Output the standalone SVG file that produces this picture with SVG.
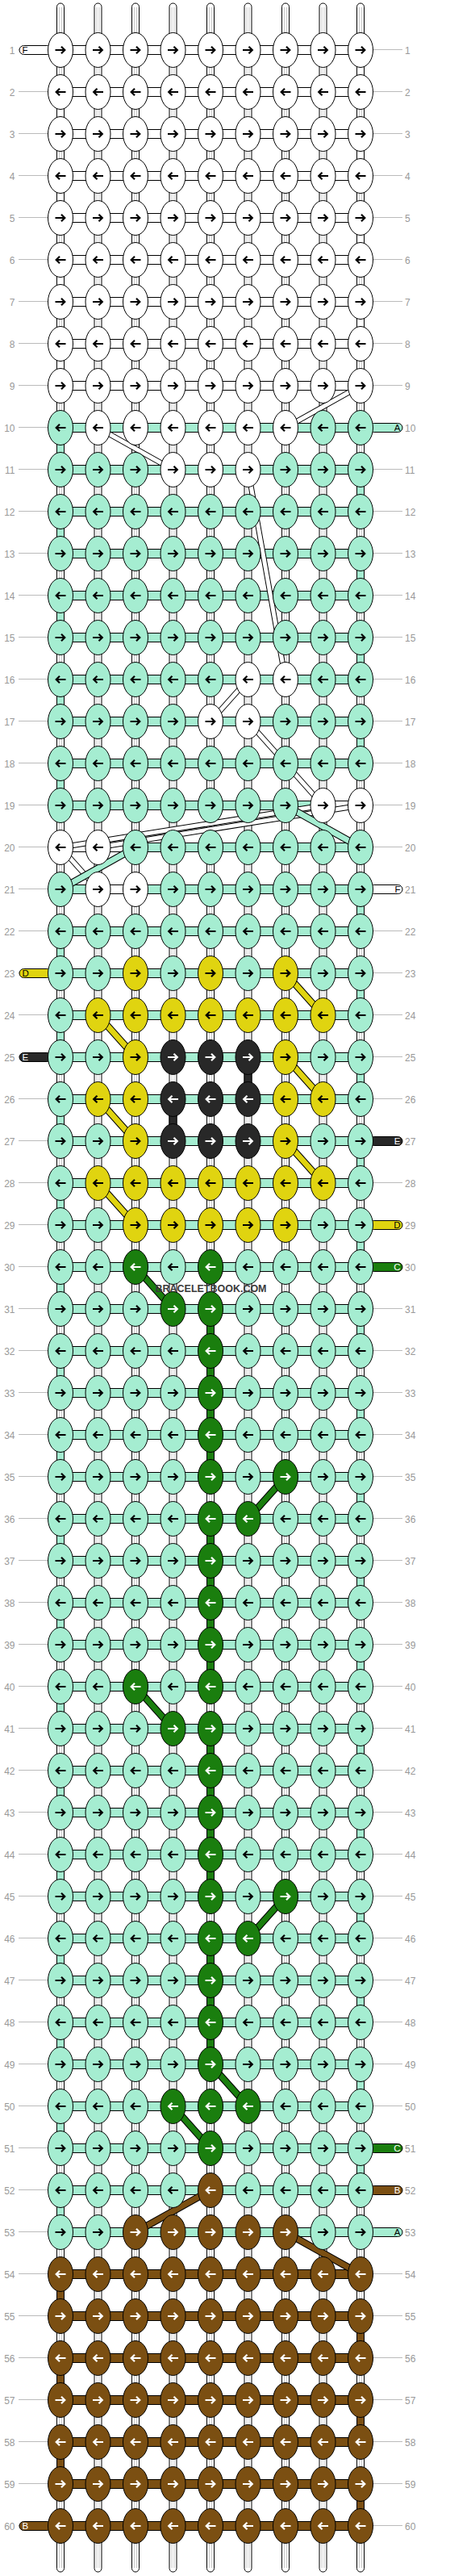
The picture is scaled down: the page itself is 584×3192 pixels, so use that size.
<svg xmlns="http://www.w3.org/2000/svg" xmlns:xlink="http://www.w3.org/1999/xlink" width="584" height="3192" viewBox="0 0 584 3192">
<style>
.o{stroke:#000;stroke-width:1}
.w{fill:#fff}.m{fill:#a5edd1}.y{fill:#e0d410}.k{fill:#282828}.g{fill:#1a7e0e}.b{fill:#7b4f12}
.n{font:12px "Liberation Sans",Arial,sans-serif;fill:#999}
.e{text-anchor:end}
.lb{font:11.5px "Liberation Sans",Arial,sans-serif}
.dk{fill:none;stroke:#000;stroke-width:9}
.tn{fill:none;stroke:#000;stroke-width:7}
</style>
<defs>
<path id="ar" d="M-6.5 0H5M1 -4.3L5.3 0L1 4.3" fill="none" stroke-width="2.2"/>
<path id="al" d="M6.5 0H-5M-1 -4.3L-5.3 0L-1 4.3" fill="none" stroke-width="2.2"/>
<g id="W"><ellipse class="o w" rx="15.5" ry="21.5"/><use href="#ar" stroke="#000"/></g>
<g id="w"><ellipse class="o w" rx="15.5" ry="21.5"/><use href="#al" stroke="#000"/></g>
<g id="M"><ellipse class="o m" rx="15.5" ry="21.5"/><use href="#ar" stroke="#000"/></g>
<g id="m"><ellipse class="o m" rx="15.5" ry="21.5"/><use href="#al" stroke="#000"/></g>
<g id="Y"><ellipse class="o y" rx="15.5" ry="21.5"/><use href="#ar" stroke="#000"/></g>
<g id="y"><ellipse class="o y" rx="15.5" ry="21.5"/><use href="#al" stroke="#000"/></g>
<g id="K"><ellipse class="o k" rx="15.5" ry="21.5"/><use href="#ar" stroke="#fff"/></g>
<g id="k"><ellipse class="o k" rx="15.5" ry="21.5"/><use href="#al" stroke="#fff"/></g>
<g id="G"><ellipse class="o g" rx="15.5" ry="21.5"/><use href="#ar" stroke="#fff"/></g>
<g id="g"><ellipse class="o g" rx="15.5" ry="21.5"/><use href="#al" stroke="#fff"/></g>
<g id="B"><ellipse class="o b" rx="15.5" ry="21.5"/><use href="#ar" stroke="#fff"/></g>
<g id="b"><ellipse class="o b" rx="15.5" ry="21.5"/><use href="#al" stroke="#fff"/></g>
<pattern id="gl" width="10" height="52" patternUnits="userSpaceOnUse" y="61"><rect width="10" height="1" fill="#bbb"/></pattern>
</defs>
<rect width="584" height="3192" fill="#fff"/>
<g id="row-lines">
<rect x="23" y="61" width="37" height="3070" fill="url(#gl)"/>
<rect x="462" y="61" width="37" height="3070" fill="url(#gl)"/>
</g>
<g id="connectors">
<g id="base-threads">
<rect class="o w" x="70.5" y="4" width="9" height="3183" rx="4.5"/>
<rect class="o w" x="117" y="4" width="9" height="3183" rx="4.5"/>
<rect class="o w" x="163.5" y="4" width="9" height="3183" rx="4.5"/>
<rect class="o w" x="210" y="4" width="9" height="3183" rx="4.5"/>
<rect class="o w" x="256.5" y="4" width="9" height="3183" rx="4.5"/>
<rect class="o w" x="303" y="4" width="9" height="3183" rx="4.5"/>
<rect class="o w" x="349.5" y="4" width="9" height="3183" rx="4.5"/>
<rect class="o w" x="396" y="4" width="9" height="3183" rx="4.5"/>
<rect class="o w" x="442.5" y="4" width="9" height="3183" rx="4.5"/>
<path d="M73.5 9V3182M76.5 9V3182M120 9V3182M123 9V3182M166.5 9V3182M169.5 9V3182M213 9V3182M216 9V3182M259.5 9V3182M262.5 9V3182M306 9V3182M309 9V3182M352.5 9V3182M355.5 9V3182M399 9V3182M402 9V3182M445.5 9V3182M448.5 9V3182" stroke="#c8c8c8" stroke-width="1" fill="none"/>
</g>
<g id="turns">
<path class="o w" d="M70.5 130h9v20h-9zM70.5 234h9v20h-9zM70.5 338h9v20h-9zM70.5 442h9v20h-9zM442.5 78h9v20h-9zM442.5 182h9v20h-9zM442.5 286h9v20h-9zM442.5 390h9v20h-9z"/>
<path class="o m" d="M70.5 546h9v20h-9zM70.5 650h9v20h-9zM70.5 754h9v20h-9zM70.5 858h9v20h-9zM70.5 962h9v20h-9zM70.5 1170h9v20h-9zM70.5 1274h9v20h-9zM70.5 1378h9v20h-9zM70.5 1482h9v20h-9zM70.5 1586h9v20h-9zM70.5 1690h9v20h-9zM70.5 1794h9v20h-9zM70.5 1898h9v20h-9zM70.5 2002h9v20h-9zM70.5 2106h9v20h-9zM70.5 2210h9v20h-9zM70.5 2314h9v20h-9zM70.5 2418h9v20h-9zM70.5 2522h9v20h-9zM70.5 2626h9v20h-9zM70.5 2730h9v20h-9zM442.5 598h9v20h-9zM442.5 702h9v20h-9zM442.5 806h9v20h-9zM442.5 910h9v20h-9zM442.5 1118h9v20h-9zM442.5 1222h9v20h-9zM442.5 1326h9v20h-9zM442.5 1430h9v20h-9zM442.5 1534h9v20h-9zM442.5 1638h9v20h-9zM442.5 1742h9v20h-9zM442.5 1846h9v20h-9zM442.5 1950h9v20h-9zM442.5 2054h9v20h-9zM442.5 2158h9v20h-9zM442.5 2262h9v20h-9zM442.5 2366h9v20h-9zM442.5 2470h9v20h-9zM442.5 2574h9v20h-9zM442.5 2678h9v20h-9z"/>
<path class="o b" d="M70.5 2834h9v20h-9zM70.5 2938h9v20h-9zM70.5 3042h9v20h-9zM442.5 2886h9v20h-9zM442.5 2990h9v20h-9zM442.5 3094h9v20h-9z"/>
<path class="o k" d="M303 1326h9v20h-9zM210 1378h9v20h-9z"/>
<path class="o g" d="M256.5 1638h9v20h-9zM256.5 1690h9v20h-9zM256.5 1742h9v20h-9zM256.5 1794h9v20h-9zM256.5 1898h9v20h-9zM256.5 1950h9v20h-9zM256.5 2002h9v20h-9zM256.5 2054h9v20h-9zM256.5 2158h9v20h-9zM256.5 2210h9v20h-9zM256.5 2262h9v20h-9zM256.5 2314h9v20h-9zM256.5 2418h9v20h-9zM256.5 2470h9v20h-9zM256.5 2522h9v20h-9z"/>
</g>
<g id="row-bars">
<path class="o w" d="M75 56.5h372v11H75zM75 108.5h372v11H75zM75 160.5h372v11H75zM75 212.5h372v11H75zM75 264.5h372v11H75zM75 316.5h372v11H75zM75 368.5h372v11H75zM75 420.5h372v11H75zM75 472.5h372v11H75z"/>
<path class="o m" d="M75 524.5h372v11H75zM75 576.5h372v11H75zM75 628.5h372v11H75zM75 680.5h372v11H75zM75 732.5h372v11H75zM75 784.5h372v11H75zM75 836.5h372v11H75zM75 888.5h372v11H75zM75 940.5h372v11H75zM75 992.5h372v11H75zM75 1044.5h372v11H75zM75 1096.5h372v11H75zM75 1148.5h372v11H75zM75 1200.5h372v11H75zM75 1252.5h372v11H75zM75 1304.5h372v11H75zM75 1356.5h372v11H75zM75 1408.5h372v11H75zM75 1460.5h372v11H75zM75 1512.5h372v11H75zM75 1564.5h372v11H75zM75 1616.5h372v11H75zM75 1668.5h372v11H75zM75 1720.5h372v11H75zM75 1772.5h372v11H75zM75 1824.5h372v11H75zM75 1876.5h372v11H75zM75 1928.5h372v11H75zM75 1980.5h372v11H75zM75 2032.5h372v11H75zM75 2084.5h372v11H75zM75 2136.5h372v11H75zM75 2188.5h372v11H75zM75 2240.5h372v11H75zM75 2292.5h372v11H75zM75 2344.5h372v11H75zM75 2396.5h372v11H75zM75 2448.5h372v11H75zM75 2500.5h372v11H75zM75 2552.5h372v11H75zM75 2604.5h372v11H75zM75 2656.5h372v11H75zM75 2708.5h372v11H75zM75 2760.5h372v11H75z"/>
<path class="o b" d="M75 2812.5h372v11H75zM75 2864.5h372v11H75zM75 2916.5h372v11H75zM75 2968.5h372v11H75zM75 3020.5h372v11H75zM75 3072.5h372v11H75zM75 3124.5h372v11H75z"/>
<path class="o w" d="M410.5 992.5h27v11h-27zM85 1044.5h27v11h-27zM131.5 1044.5h27v11h-27zM131.5 1096.5h27v11h-27z"/>
</g>
<g id="stubs">
<rect class="o w" x="24" y="56.5" width="40" height="11" rx="5.5"/><text class="lb" x="27.5" y="65.7">F</text>
<rect class="o m" x="458" y="524.5" width="41" height="11" rx="5.5"/><text class="lb e" x="496.5" y="533.7">A</text>
<rect class="o w" x="458" y="1096.5" width="41" height="11" rx="5.5"/><text class="lb e" x="496.5" y="1105.7">F</text>
<rect class="o y" x="24" y="1200.5" width="40" height="11" rx="5.5"/><text class="lb" x="27.5" y="1209.7">D</text>
<rect class="o k" x="24" y="1304.5" width="40" height="11" rx="5.5"/><text class="lb" x="27.5" y="1313.7" fill="#fff">E</text>
<rect class="o k" x="458" y="1408.5" width="41" height="11" rx="5.5"/><text class="lb e" x="496.5" y="1417.7" fill="#fff">E</text>
<rect class="o y" x="458" y="1512.5" width="41" height="11" rx="5.5"/><text class="lb e" x="496.5" y="1521.7">D</text>
<rect class="o g" x="458" y="1564.5" width="41" height="11" rx="5.5"/><text class="lb e" x="496.5" y="1573.7" fill="#fff">C</text>
<rect class="o g" x="458" y="2656.5" width="41" height="11" rx="5.5"/><text class="lb e" x="496.5" y="2665.7" fill="#fff">C</text>
<rect class="o b" x="458" y="2708.5" width="41" height="11" rx="5.5"/><text class="lb e" x="496.5" y="2717.7" fill="#fff">B</text>
<rect class="o m" x="458" y="2760.5" width="41" height="11" rx="5.5"/><text class="lb e" x="496.5" y="2769.7">A</text>
<rect class="o b" x="24" y="3124.5" width="40" height="11" rx="5.5"/><text class="lb" x="27.5" y="3133.7" fill="#fff">B</text>
</g>
<g id="diagonals">
<path class="tn" d="M447 478L354 530M121.5 530L214.5 582M307.5 582L354 842M307.5 842L261 894M307.5 894L400.5 998M447 998L121.5 1050M400.5 998L75 1050M75 1050L121.5 1102"/>
<path fill="none" stroke="#fff" stroke-width="5" d="M447 478L354 530M121.5 530L214.5 582M307.5 582L354 842M307.5 842L261 894M307.5 894L400.5 998M447 998L121.5 1050M400.5 998L75 1050M75 1050L121.5 1102"/>
<path class="dk" d="M354 998L447 1050M168 1050L75 1102"/>
<path fill="none" stroke="#a5edd1" stroke-width="7" d="M354 998L447 1050M168 1050L75 1102"/>
<path class="dk" d="M354 1206L400.5 1258M121.5 1258L168 1310M354 1310L400.5 1362M121.5 1362L168 1414M354 1414L400.5 1466M121.5 1466L168 1518"/>
<path fill="none" stroke="#e0d410" stroke-width="7" d="M354 1206L400.5 1258M121.5 1258L168 1310M354 1310L400.5 1362M121.5 1362L168 1414M354 1414L400.5 1466M121.5 1466L168 1518"/>
<path class="dk" d="M168 1570L214.5 1622M354 1830L307.5 1882M168 2090L214.5 2142M354 2350L307.5 2402M261 2558L307.5 2610M214.5 2610L261 2662"/>
<path fill="none" stroke="#1a7e0e" stroke-width="7" d="M168 1570L214.5 1622M354 1830L307.5 1882M168 2090L214.5 2142M354 2350L307.5 2402M261 2558L307.5 2610M214.5 2610L261 2662"/>
<path class="dk" d="M261 2714L168 2766M354 2766L447 2818"/>
<path fill="none" stroke="#7b4f12" stroke-width="7" d="M261 2714L168 2766M354 2766L447 2818"/>
</g>
</g>
<g id="knots">
<g id="row1" transform="translate(0 62)"><use href="#W" x="75"/><use href="#W" x="121.5"/><use href="#W" x="168"/><use href="#W" x="214.5"/><use href="#W" x="261"/><use href="#W" x="307.5"/><use href="#W" x="354"/><use href="#W" x="400.5"/><use href="#W" x="447"/><text class="n e" x="18.5" y="4.5">1</text><text class="n" x="502" y="4.5">1</text></g>
<g id="row2" transform="translate(0 114)"><use href="#w" x="75"/><use href="#w" x="121.5"/><use href="#w" x="168"/><use href="#w" x="214.5"/><use href="#w" x="261"/><use href="#w" x="307.5"/><use href="#w" x="354"/><use href="#w" x="400.5"/><use href="#w" x="447"/><text class="n e" x="18.5" y="4.5">2</text><text class="n" x="502" y="4.5">2</text></g>
<g id="row3" transform="translate(0 166)"><use href="#W" x="75"/><use href="#W" x="121.5"/><use href="#W" x="168"/><use href="#W" x="214.5"/><use href="#W" x="261"/><use href="#W" x="307.5"/><use href="#W" x="354"/><use href="#W" x="400.5"/><use href="#W" x="447"/><text class="n e" x="18.5" y="4.5">3</text><text class="n" x="502" y="4.5">3</text></g>
<g id="row4" transform="translate(0 218)"><use href="#w" x="75"/><use href="#w" x="121.5"/><use href="#w" x="168"/><use href="#w" x="214.5"/><use href="#w" x="261"/><use href="#w" x="307.5"/><use href="#w" x="354"/><use href="#w" x="400.5"/><use href="#w" x="447"/><text class="n e" x="18.5" y="4.5">4</text><text class="n" x="502" y="4.5">4</text></g>
<g id="row5" transform="translate(0 270)"><use href="#W" x="75"/><use href="#W" x="121.5"/><use href="#W" x="168"/><use href="#W" x="214.5"/><use href="#W" x="261"/><use href="#W" x="307.5"/><use href="#W" x="354"/><use href="#W" x="400.5"/><use href="#W" x="447"/><text class="n e" x="18.5" y="4.5">5</text><text class="n" x="502" y="4.5">5</text></g>
<g id="row6" transform="translate(0 322)"><use href="#w" x="75"/><use href="#w" x="121.5"/><use href="#w" x="168"/><use href="#w" x="214.5"/><use href="#w" x="261"/><use href="#w" x="307.5"/><use href="#w" x="354"/><use href="#w" x="400.5"/><use href="#w" x="447"/><text class="n e" x="18.5" y="4.5">6</text><text class="n" x="502" y="4.5">6</text></g>
<g id="row7" transform="translate(0 374)"><use href="#W" x="75"/><use href="#W" x="121.5"/><use href="#W" x="168"/><use href="#W" x="214.5"/><use href="#W" x="261"/><use href="#W" x="307.5"/><use href="#W" x="354"/><use href="#W" x="400.5"/><use href="#W" x="447"/><text class="n e" x="18.5" y="4.5">7</text><text class="n" x="502" y="4.5">7</text></g>
<g id="row8" transform="translate(0 426)"><use href="#w" x="75"/><use href="#w" x="121.5"/><use href="#w" x="168"/><use href="#w" x="214.5"/><use href="#w" x="261"/><use href="#w" x="307.5"/><use href="#w" x="354"/><use href="#w" x="400.5"/><use href="#w" x="447"/><text class="n e" x="18.5" y="4.5">8</text><text class="n" x="502" y="4.5">8</text></g>
<g id="row9" transform="translate(0 478)"><use href="#W" x="75"/><use href="#W" x="121.5"/><use href="#W" x="168"/><use href="#W" x="214.5"/><use href="#W" x="261"/><use href="#W" x="307.5"/><use href="#W" x="354"/><use href="#W" x="400.5"/><use href="#W" x="447"/><text class="n e" x="18.5" y="4.5">9</text><text class="n" x="502" y="4.5">9</text></g>
<g id="row10" transform="translate(0 530)"><use href="#m" x="75"/><use href="#w" x="121.5"/><use href="#w" x="168"/><use href="#w" x="214.5"/><use href="#w" x="261"/><use href="#w" x="307.5"/><use href="#w" x="354"/><use href="#m" x="400.5"/><use href="#m" x="447"/><text class="n e" x="18.5" y="4.5">10</text><text class="n" x="502" y="4.5">10</text></g>
<g id="row11" transform="translate(0 582)"><use href="#M" x="75"/><use href="#M" x="121.5"/><use href="#M" x="168"/><use href="#W" x="214.5"/><use href="#W" x="261"/><use href="#W" x="307.5"/><use href="#M" x="354"/><use href="#M" x="400.5"/><use href="#M" x="447"/><text class="n e" x="18.5" y="4.5">11</text><text class="n" x="502" y="4.5">11</text></g>
<g id="row12" transform="translate(0 634)"><use href="#m" x="75"/><use href="#m" x="121.5"/><use href="#m" x="168"/><use href="#m" x="214.5"/><use href="#m" x="261"/><use href="#m" x="307.5"/><use href="#m" x="354"/><use href="#m" x="400.5"/><use href="#m" x="447"/><text class="n e" x="18.5" y="4.5">12</text><text class="n" x="502" y="4.5">12</text></g>
<g id="row13" transform="translate(0 686)"><use href="#M" x="75"/><use href="#M" x="121.5"/><use href="#M" x="168"/><use href="#M" x="214.5"/><use href="#M" x="261"/><use href="#M" x="307.5"/><use href="#M" x="354"/><use href="#M" x="400.5"/><use href="#M" x="447"/><text class="n e" x="18.5" y="4.5">13</text><text class="n" x="502" y="4.5">13</text></g>
<g id="row14" transform="translate(0 738)"><use href="#m" x="75"/><use href="#m" x="121.5"/><use href="#m" x="168"/><use href="#m" x="214.5"/><use href="#m" x="261"/><use href="#m" x="307.5"/><use href="#m" x="354"/><use href="#m" x="400.5"/><use href="#m" x="447"/><text class="n e" x="18.5" y="4.5">14</text><text class="n" x="502" y="4.5">14</text></g>
<g id="row15" transform="translate(0 790)"><use href="#M" x="75"/><use href="#M" x="121.5"/><use href="#M" x="168"/><use href="#M" x="214.5"/><use href="#M" x="261"/><use href="#M" x="307.5"/><use href="#M" x="354"/><use href="#M" x="400.5"/><use href="#M" x="447"/><text class="n e" x="18.5" y="4.5">15</text><text class="n" x="502" y="4.5">15</text></g>
<g id="row16" transform="translate(0 842)"><use href="#m" x="75"/><use href="#m" x="121.5"/><use href="#m" x="168"/><use href="#m" x="214.5"/><use href="#m" x="261"/><use href="#w" x="307.5"/><use href="#w" x="354"/><use href="#m" x="400.5"/><use href="#m" x="447"/><text class="n e" x="18.5" y="4.5">16</text><text class="n" x="502" y="4.5">16</text></g>
<g id="row17" transform="translate(0 894)"><use href="#M" x="75"/><use href="#M" x="121.5"/><use href="#M" x="168"/><use href="#M" x="214.5"/><use href="#W" x="261"/><use href="#W" x="307.5"/><use href="#M" x="354"/><use href="#M" x="400.5"/><use href="#M" x="447"/><text class="n e" x="18.5" y="4.5">17</text><text class="n" x="502" y="4.5">17</text></g>
<g id="row18" transform="translate(0 946)"><use href="#m" x="75"/><use href="#m" x="121.5"/><use href="#m" x="168"/><use href="#m" x="214.5"/><use href="#m" x="261"/><use href="#m" x="307.5"/><use href="#m" x="354"/><use href="#m" x="400.5"/><use href="#m" x="447"/><text class="n e" x="18.5" y="4.5">18</text><text class="n" x="502" y="4.5">18</text></g>
<g id="row19" transform="translate(0 998)"><use href="#M" x="75"/><use href="#M" x="121.5"/><use href="#M" x="168"/><use href="#M" x="214.5"/><use href="#M" x="261"/><use href="#M" x="307.5"/><use href="#M" x="354"/><use href="#W" x="400.5"/><use href="#W" x="447"/><text class="n e" x="18.5" y="4.5">19</text><text class="n" x="502" y="4.5">19</text></g>
<g id="row20" transform="translate(0 1050)"><use href="#w" x="75"/><use href="#w" x="121.5"/><use href="#m" x="168"/><use href="#m" x="214.5"/><use href="#m" x="261"/><use href="#m" x="307.5"/><use href="#m" x="354"/><use href="#m" x="400.5"/><use href="#m" x="447"/><text class="n e" x="18.5" y="4.5">20</text><text class="n" x="502" y="4.5">20</text></g>
<g id="row21" transform="translate(0 1102)"><use href="#M" x="75"/><use href="#W" x="121.5"/><use href="#W" x="168"/><use href="#M" x="214.5"/><use href="#M" x="261"/><use href="#M" x="307.5"/><use href="#M" x="354"/><use href="#M" x="400.5"/><use href="#M" x="447"/><text class="n e" x="18.5" y="4.5">21</text><text class="n" x="502" y="4.5">21</text></g>
<g id="row22" transform="translate(0 1154)"><use href="#m" x="75"/><use href="#m" x="121.5"/><use href="#m" x="168"/><use href="#m" x="214.5"/><use href="#m" x="261"/><use href="#m" x="307.5"/><use href="#m" x="354"/><use href="#m" x="400.5"/><use href="#m" x="447"/><text class="n e" x="18.5" y="4.5">22</text><text class="n" x="502" y="4.5">22</text></g>
<g id="row23" transform="translate(0 1206)"><use href="#M" x="75"/><use href="#M" x="121.5"/><use href="#Y" x="168"/><use href="#M" x="214.5"/><use href="#Y" x="261"/><use href="#M" x="307.5"/><use href="#Y" x="354"/><use href="#M" x="400.5"/><use href="#M" x="447"/><text class="n e" x="18.5" y="4.5">23</text><text class="n" x="502" y="4.5">23</text></g>
<g id="row24" transform="translate(0 1258)"><use href="#m" x="75"/><use href="#y" x="121.5"/><use href="#y" x="168"/><use href="#y" x="214.5"/><use href="#y" x="261"/><use href="#y" x="307.5"/><use href="#y" x="354"/><use href="#y" x="400.5"/><use href="#m" x="447"/><text class="n e" x="18.5" y="4.5">24</text><text class="n" x="502" y="4.5">24</text></g>
<g id="row25" transform="translate(0 1310)"><use href="#M" x="75"/><use href="#M" x="121.5"/><use href="#Y" x="168"/><use href="#K" x="214.5"/><use href="#K" x="261"/><use href="#K" x="307.5"/><use href="#Y" x="354"/><use href="#M" x="400.5"/><use href="#M" x="447"/><text class="n e" x="18.5" y="4.5">25</text><text class="n" x="502" y="4.5">25</text></g>
<g id="row26" transform="translate(0 1362)"><use href="#m" x="75"/><use href="#y" x="121.5"/><use href="#y" x="168"/><use href="#k" x="214.5"/><use href="#k" x="261"/><use href="#k" x="307.5"/><use href="#y" x="354"/><use href="#y" x="400.5"/><use href="#m" x="447"/><text class="n e" x="18.5" y="4.5">26</text><text class="n" x="502" y="4.5">26</text></g>
<g id="row27" transform="translate(0 1414)"><use href="#M" x="75"/><use href="#M" x="121.5"/><use href="#Y" x="168"/><use href="#K" x="214.5"/><use href="#K" x="261"/><use href="#K" x="307.5"/><use href="#Y" x="354"/><use href="#M" x="400.5"/><use href="#M" x="447"/><text class="n e" x="18.5" y="4.5">27</text><text class="n" x="502" y="4.5">27</text></g>
<g id="row28" transform="translate(0 1466)"><use href="#m" x="75"/><use href="#y" x="121.5"/><use href="#y" x="168"/><use href="#y" x="214.5"/><use href="#y" x="261"/><use href="#y" x="307.5"/><use href="#y" x="354"/><use href="#y" x="400.5"/><use href="#m" x="447"/><text class="n e" x="18.5" y="4.5">28</text><text class="n" x="502" y="4.5">28</text></g>
<g id="row29" transform="translate(0 1518)"><use href="#M" x="75"/><use href="#M" x="121.5"/><use href="#Y" x="168"/><use href="#Y" x="214.5"/><use href="#Y" x="261"/><use href="#Y" x="307.5"/><use href="#Y" x="354"/><use href="#M" x="400.5"/><use href="#M" x="447"/><text class="n e" x="18.5" y="4.5">29</text><text class="n" x="502" y="4.5">29</text></g>
<g id="row30" transform="translate(0 1570)"><use href="#m" x="75"/><use href="#m" x="121.5"/><use href="#g" x="168"/><use href="#m" x="214.5"/><use href="#g" x="261"/><use href="#m" x="307.5"/><use href="#m" x="354"/><use href="#m" x="400.5"/><use href="#m" x="447"/><text class="n e" x="18.5" y="4.5">30</text><text class="n" x="502" y="4.5">30</text></g>
<g id="row31" transform="translate(0 1622)"><use href="#M" x="75"/><use href="#M" x="121.5"/><use href="#M" x="168"/><use href="#G" x="214.5"/><use href="#G" x="261"/><use href="#M" x="307.5"/><use href="#M" x="354"/><use href="#M" x="400.5"/><use href="#M" x="447"/><text class="n e" x="18.5" y="4.5">31</text><text class="n" x="502" y="4.5">31</text></g>
<g id="row32" transform="translate(0 1674)"><use href="#m" x="75"/><use href="#m" x="121.5"/><use href="#m" x="168"/><use href="#m" x="214.5"/><use href="#g" x="261"/><use href="#m" x="307.5"/><use href="#m" x="354"/><use href="#m" x="400.5"/><use href="#m" x="447"/><text class="n e" x="18.5" y="4.5">32</text><text class="n" x="502" y="4.5">32</text></g>
<g id="row33" transform="translate(0 1726)"><use href="#M" x="75"/><use href="#M" x="121.5"/><use href="#M" x="168"/><use href="#M" x="214.5"/><use href="#G" x="261"/><use href="#M" x="307.5"/><use href="#M" x="354"/><use href="#M" x="400.5"/><use href="#M" x="447"/><text class="n e" x="18.5" y="4.5">33</text><text class="n" x="502" y="4.5">33</text></g>
<g id="row34" transform="translate(0 1778)"><use href="#m" x="75"/><use href="#m" x="121.5"/><use href="#m" x="168"/><use href="#m" x="214.5"/><use href="#g" x="261"/><use href="#m" x="307.5"/><use href="#m" x="354"/><use href="#m" x="400.5"/><use href="#m" x="447"/><text class="n e" x="18.5" y="4.5">34</text><text class="n" x="502" y="4.5">34</text></g>
<g id="row35" transform="translate(0 1830)"><use href="#M" x="75"/><use href="#M" x="121.5"/><use href="#M" x="168"/><use href="#M" x="214.5"/><use href="#G" x="261"/><use href="#M" x="307.5"/><use href="#G" x="354"/><use href="#M" x="400.5"/><use href="#M" x="447"/><text class="n e" x="18.5" y="4.5">35</text><text class="n" x="502" y="4.5">35</text></g>
<g id="row36" transform="translate(0 1882)"><use href="#m" x="75"/><use href="#m" x="121.5"/><use href="#m" x="168"/><use href="#m" x="214.5"/><use href="#g" x="261"/><use href="#g" x="307.5"/><use href="#m" x="354"/><use href="#m" x="400.5"/><use href="#m" x="447"/><text class="n e" x="18.5" y="4.5">36</text><text class="n" x="502" y="4.5">36</text></g>
<g id="row37" transform="translate(0 1934)"><use href="#M" x="75"/><use href="#M" x="121.5"/><use href="#M" x="168"/><use href="#M" x="214.5"/><use href="#G" x="261"/><use href="#M" x="307.5"/><use href="#M" x="354"/><use href="#M" x="400.5"/><use href="#M" x="447"/><text class="n e" x="18.5" y="4.5">37</text><text class="n" x="502" y="4.5">37</text></g>
<g id="row38" transform="translate(0 1986)"><use href="#m" x="75"/><use href="#m" x="121.5"/><use href="#m" x="168"/><use href="#m" x="214.5"/><use href="#g" x="261"/><use href="#m" x="307.5"/><use href="#m" x="354"/><use href="#m" x="400.5"/><use href="#m" x="447"/><text class="n e" x="18.5" y="4.5">38</text><text class="n" x="502" y="4.5">38</text></g>
<g id="row39" transform="translate(0 2038)"><use href="#M" x="75"/><use href="#M" x="121.5"/><use href="#M" x="168"/><use href="#M" x="214.5"/><use href="#G" x="261"/><use href="#M" x="307.5"/><use href="#M" x="354"/><use href="#M" x="400.5"/><use href="#M" x="447"/><text class="n e" x="18.5" y="4.5">39</text><text class="n" x="502" y="4.5">39</text></g>
<g id="row40" transform="translate(0 2090)"><use href="#m" x="75"/><use href="#m" x="121.5"/><use href="#g" x="168"/><use href="#m" x="214.5"/><use href="#g" x="261"/><use href="#m" x="307.5"/><use href="#m" x="354"/><use href="#m" x="400.5"/><use href="#m" x="447"/><text class="n e" x="18.5" y="4.5">40</text><text class="n" x="502" y="4.5">40</text></g>
<g id="row41" transform="translate(0 2142)"><use href="#M" x="75"/><use href="#M" x="121.5"/><use href="#M" x="168"/><use href="#G" x="214.5"/><use href="#G" x="261"/><use href="#M" x="307.5"/><use href="#M" x="354"/><use href="#M" x="400.5"/><use href="#M" x="447"/><text class="n e" x="18.5" y="4.5">41</text><text class="n" x="502" y="4.5">41</text></g>
<g id="row42" transform="translate(0 2194)"><use href="#m" x="75"/><use href="#m" x="121.5"/><use href="#m" x="168"/><use href="#m" x="214.5"/><use href="#g" x="261"/><use href="#m" x="307.5"/><use href="#m" x="354"/><use href="#m" x="400.5"/><use href="#m" x="447"/><text class="n e" x="18.5" y="4.5">42</text><text class="n" x="502" y="4.5">42</text></g>
<g id="row43" transform="translate(0 2246)"><use href="#M" x="75"/><use href="#M" x="121.5"/><use href="#M" x="168"/><use href="#M" x="214.5"/><use href="#G" x="261"/><use href="#M" x="307.5"/><use href="#M" x="354"/><use href="#M" x="400.5"/><use href="#M" x="447"/><text class="n e" x="18.5" y="4.5">43</text><text class="n" x="502" y="4.5">43</text></g>
<g id="row44" transform="translate(0 2298)"><use href="#m" x="75"/><use href="#m" x="121.5"/><use href="#m" x="168"/><use href="#m" x="214.5"/><use href="#g" x="261"/><use href="#m" x="307.5"/><use href="#m" x="354"/><use href="#m" x="400.5"/><use href="#m" x="447"/><text class="n e" x="18.5" y="4.5">44</text><text class="n" x="502" y="4.5">44</text></g>
<g id="row45" transform="translate(0 2350)"><use href="#M" x="75"/><use href="#M" x="121.5"/><use href="#M" x="168"/><use href="#M" x="214.5"/><use href="#G" x="261"/><use href="#M" x="307.5"/><use href="#G" x="354"/><use href="#M" x="400.5"/><use href="#M" x="447"/><text class="n e" x="18.5" y="4.5">45</text><text class="n" x="502" y="4.5">45</text></g>
<g id="row46" transform="translate(0 2402)"><use href="#m" x="75"/><use href="#m" x="121.5"/><use href="#m" x="168"/><use href="#m" x="214.5"/><use href="#g" x="261"/><use href="#g" x="307.5"/><use href="#m" x="354"/><use href="#m" x="400.5"/><use href="#m" x="447"/><text class="n e" x="18.5" y="4.5">46</text><text class="n" x="502" y="4.5">46</text></g>
<g id="row47" transform="translate(0 2454)"><use href="#M" x="75"/><use href="#M" x="121.5"/><use href="#M" x="168"/><use href="#M" x="214.5"/><use href="#G" x="261"/><use href="#M" x="307.5"/><use href="#M" x="354"/><use href="#M" x="400.5"/><use href="#M" x="447"/><text class="n e" x="18.5" y="4.5">47</text><text class="n" x="502" y="4.5">47</text></g>
<g id="row48" transform="translate(0 2506)"><use href="#m" x="75"/><use href="#m" x="121.5"/><use href="#m" x="168"/><use href="#m" x="214.5"/><use href="#g" x="261"/><use href="#m" x="307.5"/><use href="#m" x="354"/><use href="#m" x="400.5"/><use href="#m" x="447"/><text class="n e" x="18.5" y="4.5">48</text><text class="n" x="502" y="4.5">48</text></g>
<g id="row49" transform="translate(0 2558)"><use href="#M" x="75"/><use href="#M" x="121.5"/><use href="#M" x="168"/><use href="#M" x="214.5"/><use href="#G" x="261"/><use href="#M" x="307.5"/><use href="#M" x="354"/><use href="#M" x="400.5"/><use href="#M" x="447"/><text class="n e" x="18.5" y="4.5">49</text><text class="n" x="502" y="4.5">49</text></g>
<g id="row50" transform="translate(0 2610)"><use href="#m" x="75"/><use href="#m" x="121.5"/><use href="#m" x="168"/><use href="#g" x="214.5"/><use href="#g" x="261"/><use href="#g" x="307.5"/><use href="#m" x="354"/><use href="#m" x="400.5"/><use href="#m" x="447"/><text class="n e" x="18.5" y="4.5">50</text><text class="n" x="502" y="4.5">50</text></g>
<g id="row51" transform="translate(0 2662)"><use href="#M" x="75"/><use href="#M" x="121.5"/><use href="#M" x="168"/><use href="#M" x="214.5"/><use href="#G" x="261"/><use href="#M" x="307.5"/><use href="#M" x="354"/><use href="#M" x="400.5"/><use href="#M" x="447"/><text class="n e" x="18.5" y="4.5">51</text><text class="n" x="502" y="4.5">51</text></g>
<g id="row52" transform="translate(0 2714)"><use href="#m" x="75"/><use href="#m" x="121.5"/><use href="#m" x="168"/><use href="#m" x="214.5"/><use href="#b" x="261"/><use href="#m" x="307.5"/><use href="#m" x="354"/><use href="#m" x="400.5"/><use href="#m" x="447"/><text class="n e" x="18.5" y="4.5">52</text><text class="n" x="502" y="4.5">52</text></g>
<g id="row53" transform="translate(0 2766)"><use href="#M" x="75"/><use href="#M" x="121.5"/><use href="#B" x="168"/><use href="#B" x="214.5"/><use href="#B" x="261"/><use href="#B" x="307.5"/><use href="#B" x="354"/><use href="#M" x="400.5"/><use href="#M" x="447"/><text class="n e" x="18.5" y="4.5">53</text><text class="n" x="502" y="4.5">53</text></g>
<g id="row54" transform="translate(0 2818)"><use href="#b" x="75"/><use href="#b" x="121.5"/><use href="#b" x="168"/><use href="#b" x="214.5"/><use href="#b" x="261"/><use href="#b" x="307.5"/><use href="#b" x="354"/><use href="#b" x="400.5"/><use href="#b" x="447"/><text class="n e" x="18.5" y="4.5">54</text><text class="n" x="502" y="4.5">54</text></g>
<g id="row55" transform="translate(0 2870)"><use href="#B" x="75"/><use href="#B" x="121.5"/><use href="#B" x="168"/><use href="#B" x="214.5"/><use href="#B" x="261"/><use href="#B" x="307.5"/><use href="#B" x="354"/><use href="#B" x="400.5"/><use href="#B" x="447"/><text class="n e" x="18.5" y="4.5">55</text><text class="n" x="502" y="4.5">55</text></g>
<g id="row56" transform="translate(0 2922)"><use href="#b" x="75"/><use href="#b" x="121.5"/><use href="#b" x="168"/><use href="#b" x="214.5"/><use href="#b" x="261"/><use href="#b" x="307.5"/><use href="#b" x="354"/><use href="#b" x="400.5"/><use href="#b" x="447"/><text class="n e" x="18.5" y="4.5">56</text><text class="n" x="502" y="4.5">56</text></g>
<g id="row57" transform="translate(0 2974)"><use href="#B" x="75"/><use href="#B" x="121.5"/><use href="#B" x="168"/><use href="#B" x="214.5"/><use href="#B" x="261"/><use href="#B" x="307.5"/><use href="#B" x="354"/><use href="#B" x="400.5"/><use href="#B" x="447"/><text class="n e" x="18.5" y="4.5">57</text><text class="n" x="502" y="4.5">57</text></g>
<g id="row58" transform="translate(0 3026)"><use href="#b" x="75"/><use href="#b" x="121.5"/><use href="#b" x="168"/><use href="#b" x="214.5"/><use href="#b" x="261"/><use href="#b" x="307.5"/><use href="#b" x="354"/><use href="#b" x="400.5"/><use href="#b" x="447"/><text class="n e" x="18.5" y="4.5">58</text><text class="n" x="502" y="4.5">58</text></g>
<g id="row59" transform="translate(0 3078)"><use href="#B" x="75"/><use href="#B" x="121.5"/><use href="#B" x="168"/><use href="#B" x="214.5"/><use href="#B" x="261"/><use href="#B" x="307.5"/><use href="#B" x="354"/><use href="#B" x="400.5"/><use href="#B" x="447"/><text class="n e" x="18.5" y="4.5">59</text><text class="n" x="502" y="4.5">59</text></g>
<g id="row60" transform="translate(0 3130)"><use href="#b" x="75"/><use href="#b" x="121.5"/><use href="#b" x="168"/><use href="#b" x="214.5"/><use href="#b" x="261"/><use href="#b" x="307.5"/><use href="#b" x="354"/><use href="#b" x="400.5"/><use href="#b" x="447"/><text class="n e" x="18.5" y="4.5">60</text><text class="n" x="502" y="4.5">60</text></g>
</g>
<text id="watermark" x="261.5" y="1601" text-anchor="middle" textLength="138" lengthAdjust="spacingAndGlyphs" font-family="Liberation Sans, Arial, sans-serif" font-size="13" font-weight="bold" fill="#3a3a3a">BRACELETBOOK.COM</text>
</svg>
